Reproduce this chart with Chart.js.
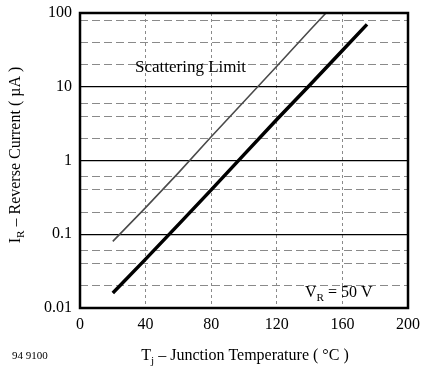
<!DOCTYPE html>
<html lang="en">
<head>
    <meta charset="UTF-8">
    <title>Reverse Current vs. Junction Temperature</title>
    <script src="https://cdn.jsdelivr.net/npm/chart.js"></script>
    <style>
        html, body { margin: 0; padding: 0; background: #fff; }
        #wrap { position: relative; width: 421px; height: 366px; }
    </style>
</head>
<body>
    <div id="wrap"><canvas id="chart" width="421" height="366"></canvas></div>

    <script>
        // Data
        const tempsLimit = [20, 40, 60, 80, 100, 120, 140, 150];
        const currentLimit = [0.08, 0.23, 0.68, 2.1, 6.3, 19, 58, 100];
        const tempsTypical = [20, 40, 60, 80, 100, 120, 140, 160, 175];
        const currentTypical = [0.016, 0.046, 0.135, 0.4, 1.2, 3.6, 10.5, 31, 70];

        // Axis ticks
        const xTicks = [0, 40, 80, 120, 160, 200];
        const yTicks = [0.01, 0.1, 1, 10, 100];
        const yMinorTicks = [0.02, 0.04, 0.06, 0.2, 0.4, 0.6, 2, 4, 6, 20, 40, 80];

        const serif = '"Liberation Serif", "DejaVu Serif", serif';

        function toPoints(xs, ys) {
            return xs.map((x, i) => ({ x: x, y: ys[i] }));
        }

        // draws a run of text pieces, some of them subscripted
        function drawParts(ctx, parts, x, y, size) {
            let cx = x;
            parts.forEach(p => {
                ctx.font = (p.sub ? size * 0.7 : size) + 'px ' + serif;
                ctx.fillText(p.t, cx, p.sub ? y + size * 0.25 : y);
                cx += ctx.measureText(p.t).width;
            });
        }

        function partsWidth(ctx, parts, size) {
            let w = 0;
            parts.forEach(p => {
                ctx.font = (p.sub ? size * 0.7 : size) + 'px ' + serif;
                w += ctx.measureText(p.t).width;
            });
            return w;
        }

        // let layout.padding alone decide the plot edges
        function noLabelPadding(scale) {
            scale.paddingTop = 0;
            scale.paddingBottom = 0;
            scale.paddingLeft = 0;
            scale.paddingRight = 0;
        }

        const annotations = {
            id: 'annotations',
            afterDraw(chart) {
                const ctx = chart.ctx;
                const a = chart.chartArea;
                ctx.save();

                // plot frame
                ctx.strokeStyle = '#000';
                ctx.lineWidth = 2.5;
                ctx.strokeRect(a.left, a.top, a.right - a.left, a.bottom - a.top);

                ctx.fillStyle = '#000';
                ctx.textBaseline = 'alphabetic';
                ctx.textAlign = 'left';

                ctx.font = '17px ' + serif;
                ctx.fillText('Scattering Limit', 135, 72);

                drawParts(ctx, [{ t: 'V' }, { t: 'R', sub: true }, { t: ' = 50 V' }], 305, 297, 16);

                // x title
                const xt = [{ t: 'T' }, { t: 'j', sub: true }, { t: ' \u2013 Junction Temperature ( \u00b0C )' }];
                const xw = partsWidth(ctx, xt, 16);
                drawParts(ctx, xt, 245 - xw / 2, 360, 16);

                ctx.font = '11px ' + serif;
                ctx.fillText('94 9100', 12, 359);

                // y title, rotated
                const yt = [{ t: 'I' }, { t: 'R', sub: true }, { t: ' \u2013 Reverse Current ( \u00b5A )' }];
                const yw = partsWidth(ctx, yt, 16);
                ctx.translate(20, 155);
                ctx.rotate(-Math.PI / 2);
                drawParts(ctx, yt, -yw / 2, 0, 16);

                ctx.restore();
            }
        };

        new Chart(document.getElementById('chart'), {
            type: 'line',
            data: {
                datasets: [
                    {
                        label: 'Scattering Limit',
                        data: toPoints(tempsLimit, currentLimit),
                        borderColor: '#4a4a4a',
                        borderWidth: 1.6,
                        pointRadius: 0,
                        tension: 0
                    },
                    {
                        label: 'Typical',
                        data: toPoints(tempsTypical, currentTypical),
                        borderColor: '#000',
                        borderWidth: 3.5,
                        pointRadius: 0,
                        tension: 0
                    }
                ]
            },
            options: {
                responsive: false,
                animation: false,
                layout: { padding: { top: 13, right: 13, left: 0, bottom: 0 } },
                plugins: {
                    legend: { display: false },
                    tooltip: { enabled: false }
                },
                scales: {
                    x: {
                        type: 'linear',
                        min: 0,
                        max: 200,
                        afterBuildTicks: scale => { scale.ticks = xTicks.map(v => ({ value: v })); },
                        afterFit: scale => { scale.height = 58; noLabelPadding(scale); },
                        ticks: {
                            color: '#000',
                            padding: 7,
                            font: { family: serif, size: 16 }
                        },
                        grid: {
                            drawTicks: false,
                            lineWidth: 1,
                            color: c => (c.tick && (c.tick.value === 0 || c.tick.value === 200)) ? 'rgba(0,0,0,0)' : '#8a8a8a'
                        },
                        border: { display: false, dash: [3, 3] }
                    },
                    y: {
                        type: 'logarithmic',
                        position: 'left',
                        min: 0.01,
                        max: 100,
                        afterBuildTicks: scale => { scale.ticks = yTicks.map(v => ({ value: v })); },
                        afterFit: scale => { scale.width = 80; noLabelPadding(scale); },
                        ticks: {
                            color: '#000',
                            padding: 8,
                            font: { family: serif, size: 16 },
                            callback: v => String(v)
                        },
                        grid: {
                            drawTicks: false,
                            lineWidth: 1.3,
                            color: '#000'
                        },
                        border: { display: false }
                    },
                    yMinor: {
                        type: 'logarithmic',
                        position: 'left',
                        min: 0.01,
                        max: 100,
                        afterBuildTicks: scale => { scale.ticks = yMinorTicks.map(v => ({ value: v })); },
                        afterFit: scale => { scale.width = 0; noLabelPadding(scale); },
                        ticks: { display: false },
                        grid: {
                            drawTicks: false,
                            lineWidth: 1,
                            color: '#8a8a8a'
                        },
                        border: { display: false, dash: [8, 4] }
                    }
                }
            },
            plugins: [annotations]
        });
    </script>
</body>
</html>
